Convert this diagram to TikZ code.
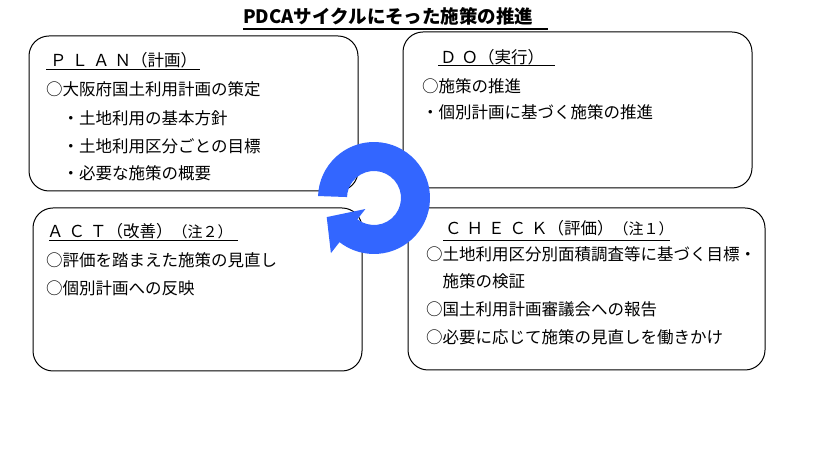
\documentclass[tikz,border=0pt]{standalone}
\usepackage{fontspec}
\setmainfont{Noto Sans CJK JP}
\usetikzlibrary{positioning}
\definecolor{ringblue}{RGB}{51,102,255}
\newcommand{\wideletters}[1]{{\addfontfeature{LetterSpace=30}#1}}
\tikzset{
  pdcabox/.style={draw, line width=1pt, rounded corners=20pt, inner sep=0pt},
  txt/.style={anchor=base west, inner sep=0pt, font=\fontsize{16.5}{20}\selectfont},
  note/.style={font=\fontsize{15}{18}\selectfont},
  uline/.style={line width=1pt}
}

\begin{document}
\begin{tikzpicture}[x=1pt,y=1pt]
\useasboundingbox (0,0) rectangle (823,460);
% title
\node[anchor=base west, inner sep=0pt, font=\bfseries\fontsize{18.5}{20}\selectfont] (title) at (243,436.5) {PDCAサイクルにそった施策の推進};
\draw[line width=1.2pt] (243,431) -- (548,431);
% the four boxes
\node[pdcabox, minimum width=329pt, minimum height=155pt] (planbox) at (193.5,346.5) {};
\node[pdcabox, minimum width=349pt, minimum height=156pt] (dobox) at (577.5,350) {};
\node[pdcabox, minimum width=329pt, minimum height=163pt] (actbox) at (197.5,170.5) {};
\node[pdcabox, minimum width=357pt, minimum height=162pt] (checkbox) at (586.5,171) {};
% PLAN
\node[txt] (planhead) at (50,393) {\wideletters{ＰＬＡＮ}（計画）};
\draw[uline] (46,390.5) -- (200,390.5);
\node[txt] (plan1) at (46,364) {○大阪府国土利用計画の策定};
\node[txt] (plan2) at (46,335) {　・土地利用の基本方針};
\node[txt] (plan3) at (46,307) {　・土地利用区分ごとの目標};
\node[txt] (plan4) at (46,280) {　・必要な施策の概要};
% DO
\node[txt] (dohead) at (440,396.5) {\wideletters{ＤＯ}（実行）};
\draw[uline] (438,394) -- (555,394);
\node[txt] (do1) at (422,367) {○施策の推進};
\node[txt] (do2) at (422,341) {・個別計画に基づく施策の推進};
% ACT
\node[txt] (acthead) at (47,222) {\wideletters{ＡＣＴ}（改善）{\fontsize{15}{18}\selectfont（注２）}};
\draw[uline] (49,219) -- (238,219);
\node[txt] (act1) at (46,193) {○評価を踏まえた施策の見直し};
\node[txt] (act2) at (46,165) {○個別計画への反映};
% CHECK
\node[txt] (checkhead) at (445,225) {\wideletters{ＣＨＥＣＫ}（評価）{\fontsize{15}{18}\selectfont（注１）}};
\draw[uline] (443,219) -- (670,219);
\node[txt] (check1) at (426,199) {○土地利用区分別面積調査等に基づく目標・};
\node[txt] (check2) at (426,172) {　施策の検証};
\node[txt] (check3) at (426,144) {○国土利用計画審議会への報告};
\node[txt] (check4) at (426,116) {○必要に応じて施策の見直しを働きかけ};
% cycle arrow
\coordinate (ringc) at (374,262);
\fill[ringblue] ([shift={(ringc)}]178:56) arc[start angle=178, end angle=-128, radius=56]
  -- ([shift={(ringc)}]-128:70) -- ([shift={(ringc)}]-158:51) -- ([shift={(ringc)}]-128:14)
  -- ([shift={(ringc)}]-128:27) arc[start angle=-128, end angle=178, radius=27] -- cycle;
\end{tikzpicture}
\end{document}
